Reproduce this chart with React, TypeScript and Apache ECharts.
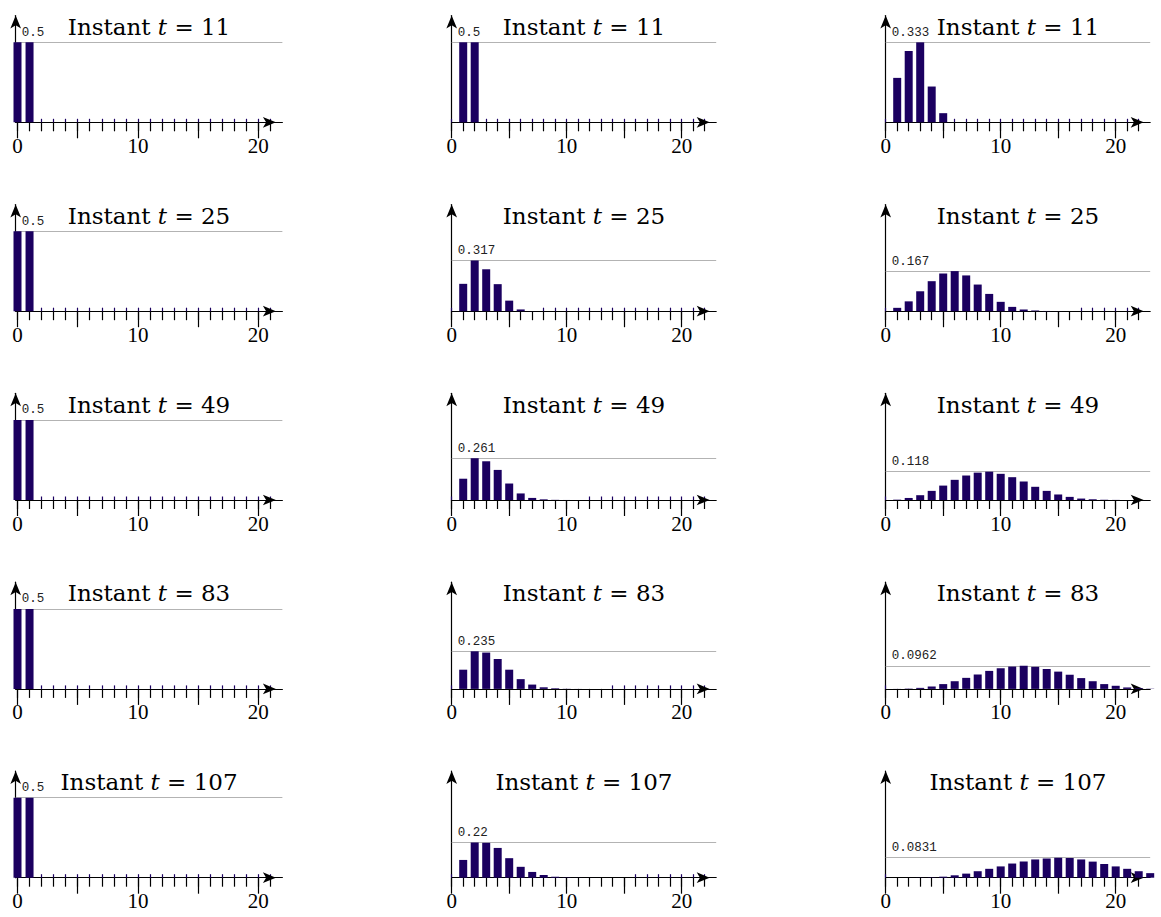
import React, { useEffect, useRef } from "react";
import * as echarts from "echarts";

// ---- data (bar heights at positions 0..23) ----
const times = [11, 25, 49, 83, 107];
const positions = [0, 1, 2, 3, 4, 5, 6, 7, 8, 9, 10, 11, 12, 13, 14, 15, 16, 17, 18, 19, 20, 21, 22, 23];
const minorTicks = [0, 1, 2, 3, 4, 5, 6, 7, 8, 9, 10, 11, 12, 13, 14, 15, 16, 17, 18, 19, 20, 21, 22];
const majorTicks = [0, 5, 10, 15, 20];
const tickLabels = [0, 10, 20];

// column 1
const c1_t11 = [0.5, 0.5, 0, 0, 0, 0, 0, 0, 0, 0, 0, 0, 0, 0, 0, 0, 0, 0, 0, 0, 0, 0, 0, 0];
const c1_t25 = [0.5, 0.5, 0, 0, 0, 0, 0, 0, 0, 0, 0, 0, 0, 0, 0, 0, 0, 0, 0, 0, 0, 0, 0, 0];
const c1_t49 = [0.5, 0.5, 0, 0, 0, 0, 0, 0, 0, 0, 0, 0, 0, 0, 0, 0, 0, 0, 0, 0, 0, 0, 0, 0];
const c1_t83 = [0.5, 0.5, 0, 0, 0, 0, 0, 0, 0, 0, 0, 0, 0, 0, 0, 0, 0, 0, 0, 0, 0, 0, 0, 0];
const c1_t107 = [0.5, 0.5, 0, 0, 0, 0, 0, 0, 0, 0, 0, 0, 0, 0, 0, 0, 0, 0, 0, 0, 0, 0, 0, 0];

// column 2
const c2_t11 = [0, 0.5, 0.5, 0, 0, 0, 0, 0, 0, 0, 0, 0, 0, 0, 0, 0, 0, 0, 0, 0, 0, 0, 0, 0];
const c2_t25 = [0, 0.171, 0.317, 0.262, 0.169, 0.066, 0.011, 0.0006, 0, 0, 0, 0, 0, 0, 0, 0, 0, 0, 0, 0, 0, 0, 0, 0];
const c2_t49 = [0, 0.133, 0.261, 0.242, 0.188, 0.103, 0.041, 0.013, 0.004, 0.001, 0.0002, 0.00003, 0, 0, 0, 0, 0, 0, 0, 0, 0, 0, 0, 0];
const c2_t83 = [0, 0.12, 0.235, 0.227, 0.187, 0.12, 0.061, 0.027, 0.01, 0.004, 0.001, 0.0003, 0.00008, 0.00002, 0, 0, 0, 0, 0, 0, 0, 0, 0, 0];
const c2_t107 = [0, 0.111, 0.22, 0.218, 0.186, 0.122, 0.068, 0.036, 0.017, 0.006, 0.002, 0.0006, 0.0002, 0.00005, 0.00001, 0.000003, 0, 0, 0, 0, 0, 0, 0, 0];

// column 3
const c3_t11 = [0, 0.185, 0.297, 0.333, 0.149, 0.038, 0, 0, 0, 0, 0, 0, 0, 0, 0, 0, 0, 0, 0, 0, 0, 0, 0, 0];
const c3_t25 = [0, 0.014, 0.041, 0.083, 0.125, 0.157, 0.167, 0.149, 0.111, 0.072, 0.039, 0.018, 0.007, 0.003, 0.001, 0.0003, 0.00005, 0, 0, 0, 0, 0, 0, 0];
const c3_t49 = [0, 0.0014, 0.0085, 0.02, 0.038, 0.06, 0.084, 0.102, 0.114, 0.118, 0.109, 0.095, 0.077, 0.055, 0.038, 0.023, 0.013, 0.006, 0.003, 0.001, 0.0004, 0.0001, 0.00003, 0.00001];
const c3_t83 = [0, 0.0003, 0.0014, 0.0043, 0.01, 0.02, 0.032, 0.046, 0.06, 0.075, 0.086, 0.093, 0.0962, 0.092, 0.083, 0.072, 0.059, 0.045, 0.032, 0.02, 0.013, 0.006, 0.003, 0.001];
const c3_t107 = [0, 0.00005, 0.0002, 0.0006, 0.0014, 0.0043, 0.01, 0.017, 0.027, 0.037, 0.047, 0.059, 0.067, 0.076, 0.08, 0.0831, 0.082, 0.076, 0.067, 0.057, 0.047, 0.037, 0.027, 0.019];

const columns = [
  [c1_t11, c1_t25, c1_t49, c1_t83, c1_t107],
  [c2_t11, c2_t25, c2_t49, c2_t83, c2_t107],
  [c3_t11, c3_t25, c3_t49, c3_t83, c3_t107],
];

// ---- layout / style ----
const BAR = "#1b0060";
const colLeft = [15.7, 451.7, 885.7];
const colMin = [-0.15, 0, 0];
const colMax = [22, 23, 23];
const colPx = [12.04, 11.5, 11.5];
const colYMax = [0.6667, 0.6667, 0.4444];
const rowAxisY = [122.3, 311.2, 500.0, 688.9, 877.7];
const GRID_H = 106.7;

function fmt(v: number) {
  return String(parseFloat(v.toPrecision(3)));
}

function buildOption() {
  const grid: any[] = [];
  const xAxis: any[] = [];
  const yAxis: any[] = [];
  const series: any[] = [];
  const graphic: any[] = [];
  const axisColor = "#000";
  for (let r = 0; r < 5; r++) {
    for (let c = 0; c < 3; c++) {
      const g = grid.length;
      const data = columns[c][r];
      const width = (colMax[c] - colMin[c]) * colPx[c];
      grid.push({
        left: colLeft[c],
        top: rowAxisY[r] - GRID_H,
        width,
        height: GRID_H,
        containLabel: false,
      });
      const lastTick = colMax[c] - 0.6;
      const zeros = positions.filter((p) => data[p] === 0 && p <= lastTick);
      const minors = minorTicks.filter((p) => p <= lastTick);
      // main axis
      xAxis.push({
        type: "value",
        gridIndex: g,
        min: colMin[c],
        max: colMax[c],
        position: "bottom",
        axisLine: {
          show: true,
          onZero: false,
          symbol: ["none", "arrow"],
          symbolSize: [8, 13],
          symbolOffset: [0, -6.5],
          lineStyle: { color: axisColor, width: 1.2 },
        },
        axisTick: { show: true, length: 9, customValues: minors, lineStyle: { color: axisColor, width: 1.2 } },
        axisLabel: {
          show: true,
          customValues: tickLabels,
          margin: 13,
          fontFamily: "Liberation Serif",
          fontSize: 21,
          color: "#000",
        },
        splitLine: { show: false },
      });
      // long ticks
      xAxis.push({
        type: "value",
        gridIndex: g,
        min: colMin[c],
        max: colMax[c],
        position: "bottom",
        axisLine: { show: false, onZero: false },
        axisTick: { show: true, length: 16, customValues: majorTicks, lineStyle: { color: axisColor, width: 1.2 } },
        axisLabel: { show: false },
        splitLine: { show: false },
      });
      // small marks above the axis where value is exactly zero
      xAxis.push({
        type: "value",
        gridIndex: g,
        min: colMin[c],
        max: colMax[c],
        position: "bottom",
        axisLine: { show: false, onZero: false },
        axisTick: { show: true, inside: true, length: 3.5, customValues: zeros, lineStyle: { color: BAR, width: 1.2 } },
        axisLabel: { show: false },
        splitLine: { show: false },
      });
      yAxis.push({
        type: "value",
        gridIndex: g,
        min: 0,
        max: colYMax[c],
        axisLine: {
          show: true,
          onZero: false,
          symbol: ["none", "arrow"],
          symbolSize: [8, 13],
          lineStyle: { color: axisColor, width: 1.2 },
        },
        axisTick: { show: false },
        axisLabel: { show: false },
        splitLine: { show: false },
      });
      const maxV = Math.max(...data);
      series.push({
        type: "bar",
        xAxisIndex: g * 3,
        yAxisIndex: g,
        data: positions.map((p) => [p, data[p]]),
        barWidth: 8,
        clip: false,
        itemStyle: { color: BAR },
        z: 3,
        markLine: {
          silent: true,
          symbol: ["none", "none"],
          animation: false,
          z: 1,
          lineStyle: { color: "#b3b3b3", width: 1, type: "solid" },
          label: {
            show: true,
            position: "insideStartTop",
            formatter: () => fmt(maxV),
            fontFamily: "Liberation Mono",
            fontSize: 12.5,
            color: "#222",
            distance: [6, 3],
          },
          data: [[{ coord: [colMin[c], maxV] }, { coord: [colMax[c], maxV] }]],
        },
      });
      const cx = colLeft[c] + width / 2;
      graphic.push({
        type: "text",
        x: cx,
        y: rowAxisY[r] - 95.5,
        z: 10,
        style: {
          text: "{a|Instant }{b|t}{a| = " + times[r] + "}",
          rich: {
            a: { fontFamily: "DejaVu Serif", fontSize: 23, fill: "#000" },
            b: { fontFamily: "DejaVu Serif", fontSize: 23, fontStyle: "italic", fill: "#000" },
          },
          fontFamily: "DejaVu Serif",
          fontSize: 23,
          fill: "#000",
          align: "center",
          textAlign: "center",
          verticalAlign: "middle",
          textVerticalAlign: "middle",
        },
      });
    }
  }
  return {
    animation: false,
    backgroundColor: "#fff",
    grid,
    xAxis,
    yAxis,
    series,
    graphic,
  };
}

export default function App() {
  const ref = useRef<HTMLDivElement>(null);
  useEffect(() => {
    if (!ref.current) return;
    const chart = echarts.init(ref.current, undefined, { renderer: "svg" });
    chart.setOption(buildOption() as any);
    return () => chart.dispose();
  }, []);
  return (
    <div
      ref={ref}
      style={{ position: "absolute", left: 0, top: 0, width: 1161, height: 917, background: "#fff" }}
    />
  );
}
